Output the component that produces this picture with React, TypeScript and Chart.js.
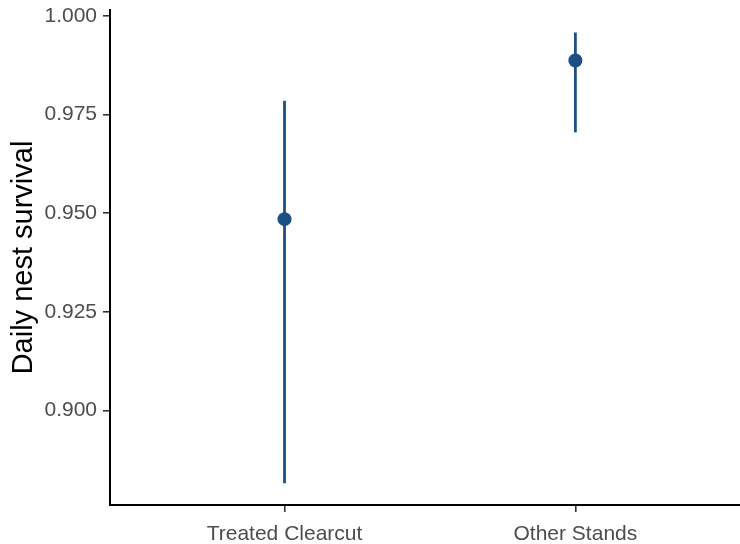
import React, { useEffect, useRef } from "react";
import { Chart, registerables } from "chart.js";

Chart.register(...registerables);

// Daily nest survival estimates with 95% confidence limits
const categories = ["Treated Clearcut", "Other Stands"];
const estimates = [0.9485, 0.9887];
const lowerCI = [0.8816, 0.9705];
const upperCI = [0.9785, 0.9958];
const yTicks = [0.9, 0.925, 0.95, 0.975, 1.0];

const markColor = "#1c4f86";
const tickTextColor = "#4d4d4d";

// Vertical interval lines drawn beneath the points
const errorBars = {
  id: "errorBars",
  beforeDatasetsDraw(chart: any) {
    const { ctx, scales } = chart;
    const x = scales.x;
    const y = scales.y;
    ctx.save();
    ctx.strokeStyle = markColor;
    ctx.lineWidth = 2.8;
    categories.forEach((_, i) => {
      const px = x.getPixelForValue(i + 1);
      ctx.beginPath();
      ctx.moveTo(px, y.getPixelForValue(lowerCI[i]));
      ctx.lineTo(px, y.getPixelForValue(upperCI[i]));
      ctx.stroke();
    });
    ctx.restore();
  },
};

export default function App() {
  const canvasRef = useRef<HTMLCanvasElement | null>(null);

  useEffect(() => {
    if (!canvasRef.current) return;
    const chart = new Chart(canvasRef.current, {
      type: "scatter",
      data: {
        datasets: [
          {
            data: estimates.map((v, i) => ({ x: i + 1, y: v })),
            backgroundColor: markColor,
            borderColor: markColor,
            pointRadius: 7,
            pointBorderWidth: 0,
          },
        ],
      },
      options: {
        animation: false,
        responsive: false,
        layout: { autoPadding: false, padding: { top: 10, right: 0, bottom: 0, left: 0 } },
        plugins: {
          legend: { display: false },
          tooltip: { enabled: false },
        },
        scales: {
          x: {
            type: "linear",
            min: 0.4,
            max: 2.566,
            afterBuildTicks: (scale: any) => {
              scale.ticks = categories.map((_, i) => ({ value: i + 1 }));
            },
            afterFit: (scale: any) => {
              scale.height = 39;
              scale.paddingLeft = 0;
              scale.paddingRight = 0;
            },
            ticks: {
              callback: (v: any) => categories[Number(v) - 1] ?? "",
              color: tickTextColor,
              font: { family: "Liberation Sans", size: 21 },
              padding: 10,
              maxRotation: 0,
            },
            grid: {
              drawOnChartArea: false,
              tickLength: 7,
              tickColor: "#333333",
              lineWidth: 1.6,
            },
            border: { color: "#000000", width: 2 },
          },
          y: {
            type: "linear",
            min: 0.87606,
            max: 1.0015,
            afterBuildTicks: (scale: any) => {
              scale.ticks = yTicks.map((v) => ({ value: v }));
            },
            afterFit: (scale: any) => {
              scale.width = 110;
              scale.paddingTop = 0;
              scale.paddingBottom = 0;
            },
            ticks: {
              callback: (v: any) => Number(v).toFixed(3),
              color: tickTextColor,
              font: { family: "Liberation Sans", size: 21 },
              padding: 6,
            },
            grid: {
              drawOnChartArea: false,
              tickLength: 7,
              tickColor: "#333333",
              lineWidth: 1.6,
            },
            border: { color: "#000000", width: 2 },
            title: {
              display: true,
              text: "Daily nest survival",
              color: "#000000",
              font: { family: "Liberation Sans", size: 29 },
              padding: { top: 7, bottom: 0 },
            },
          },
        },
      },
      plugins: [errorBars],
    });
    return () => chart.destroy();
  }, []);

  return (
    <div style={{ position: "fixed", left: 0, top: 0, width: 740, height: 544, background: "#ffffff" }}>
      <canvas ref={canvasRef} width={740} height={544} />
    </div>
  );
}
